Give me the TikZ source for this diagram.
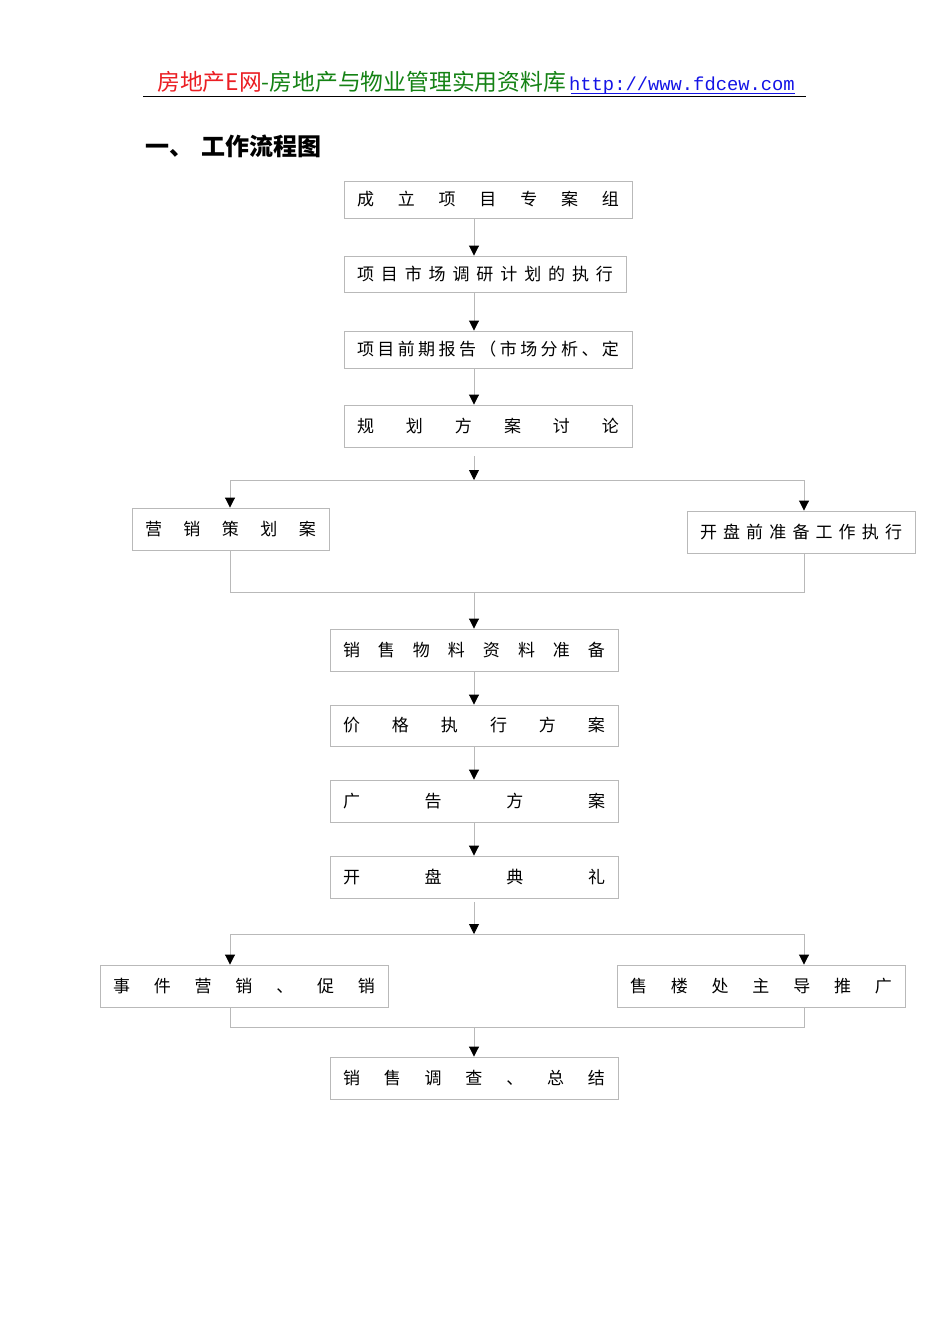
\documentclass[tikz,border=0pt]{standalone}
\usepackage{fontspec}
\setmonofont{Liberation Mono}
\newfontfamily\cjk{Noto Sans CJK SC}
\usetikzlibrary{arrows.meta}
\definecolor{linegray}{RGB}{185,185,185}
\definecolor{hred}{RGB}{235,30,35}
\definecolor{hgreen}{RGB}{20,130,20}
\definecolor{hblue}{RGB}{20,20,230}
\tikzset{
  flowbox/.style={draw=linegray, line width=0.9pt, inner sep=0pt, minimum width=288pt, minimum height=42pt, font=\cjk\fontsize{17}{19}\selectfont},
  link/.style={draw=linegray, line width=0.9pt},
  arr/.style={link, -{Triangle[length=10pt,width=10pt,color=black]}},
}
\newcommand{\spreadtxt}[2]{\makebox[#1][s]{#2}}
\begin{document}
\begin{tikzpicture}[x=1pt,y=-1pt]
  \fill[white] (0,0) rectangle (950,1344);
  \useasboundingbox (0,0) rectangle (950,1344);

  \node[anchor=base west, inner sep=0pt] (kuming) at (157,90) {{\cjk\fontsize{22.8}{26}\selectfont\color{hred}房地产E网\color{hgreen}-房地产与物业管理实用资料库}\hspace{3pt}{\ttfamily\fontsize{18.8}{22}\selectfont\color{hblue}http://www.fdcew.com}};
  \draw[hblue, line width=1pt] (571,93) -- (795,93);
  \draw[line width=1.3pt] (143,96.5) -- (806,96.5);
  \node[anchor=west, inner sep=0pt, font=\cjk\bfseries\fontsize{24}{27}\selectfont] (biaoti) at (145,146) {一、\hspace{8pt}工作流程图};

  \node[flowbox, minimum height=37pt] (zuzhi) at (488,199.5) {\spreadtxt{262pt}{成\hfill 立\hfill 项\hfill 目\hfill 专\hfill 案\hfill 组}};
  \node[flowbox, minimum width=282pt, minimum height=36pt] (diaoyan) at (485,274) {\spreadtxt{256pt}{项\hfill 目\hfill 市\hfill 场\hfill 调\hfill 研\hfill 计\hfill 划\hfill 的\hfill 执\hfill 行}};
  \node[flowbox, minimum height=37pt] (baogao) at (488,349.5) {\spreadtxt{262pt}{项\hfill 目\hfill 前\hfill 期\hfill 报\hfill 告\hfill （\hfill 市\hfill 场\hfill 分\hfill 析\hfill 、\hfill 定}};
  \node[flowbox] (guihua) at (488,426) {\spreadtxt{262pt}{规\hfill 划\hfill 方\hfill 案\hfill 讨\hfill 论}};
  \node[flowbox, minimum width=197pt] (cehua) at (230.5,529) {\spreadtxt{171pt}{营\hfill 销\hfill 策\hfill 划\hfill 案}};
  \node[flowbox, minimum width=228pt] (zhunbei) at (801,532) {\spreadtxt{202pt}{开\hfill 盘\hfill 前\hfill 准\hfill 备\hfill 工\hfill 作\hfill 执\hfill 行}};
  \node[flowbox] (wuliao) at (474,650) {\spreadtxt{262pt}{销\hfill 售\hfill 物\hfill 料\hfill 资\hfill 料\hfill 准\hfill 备}};
  \node[flowbox, minimum height=41pt] (jiage) at (474,725.5) {\spreadtxt{262pt}{价\hfill 格\hfill 执\hfill 行\hfill 方\hfill 案}};
  \node[flowbox] (guanggao) at (474,801) {\spreadtxt{262pt}{广\hfill 告\hfill 方\hfill 案}};
  \node[flowbox] (dianli) at (474,877) {\spreadtxt{262pt}{开\hfill 盘\hfill 典\hfill 礼}};
  \node[flowbox] (cuxiao) at (244,986) {\spreadtxt{262pt}{事\hfill 件\hfill 营\hfill 销\hfill 、\hfill 促\hfill 销}};
  \node[flowbox] (tuiguang) at (761,986) {\spreadtxt{262pt}{售\hfill 楼\hfill 处\hfill 主\hfill 导\hfill 推\hfill 广}};
  \node[flowbox] (zongjie) at (474,1078) {\spreadtxt{262pt}{销\hfill 售\hfill 调\hfill 查\hfill 、\hfill 总\hfill 结}};

  \coordinate (fenA) at (474,480);
  \coordinate (fenAl) at (230,480);
  \coordinate (fenAr) at (804,480);
  \coordinate (heA) at (474,592);
  \coordinate (heAl) at (230,592);
  \coordinate (heAr) at (804,592);
  \coordinate (fenB) at (474,934);
  \coordinate (fenBl) at (230,934);
  \coordinate (fenBr) at (804,934);
  \coordinate (heB) at (474,1027);
  \coordinate (heBl) at (230,1027);
  \coordinate (heBr) at (804,1027);

  \draw[arr] (zuzhi.south -| wuliao) -- (diaoyan.north -| wuliao);
  \draw[arr] (diaoyan.south -| wuliao) -- (baogao.north -| wuliao);
  \draw[arr] (baogao.south -| wuliao) -- (guihua.north -| wuliao);
  \draw[arr, shorten <=9pt] (guihua.south -| wuliao) -- (fenA);
  \draw[link] (fenAl) -- (fenAr);
  \draw[arr] (fenAl) -- (fenAl |- cehua.north);
  \draw[arr] (fenAr) -- (fenAr |- zhunbei.north);
  \draw[link] (cehua.south -| heAl) -- (heAl) -- (heAr) -- (zhunbei.south -| heAr);
  \draw[arr] (heA) -- (wuliao.north);

  \draw[arr] (wuliao.south) -- (jiage.north);
  \draw[arr] (jiage.south) -- (guanggao.north);
  \draw[arr] (guanggao.south) -- (dianli.north);
  \draw[arr, shorten <=4pt] (dianli.south) -- (fenB);
  \draw[link] (fenBl) -- (fenBr);
  \draw[arr] (fenBl) -- (fenBl |- cuxiao.north);
  \draw[arr] (fenBr) -- (fenBr |- tuiguang.north);
  \draw[link] (cuxiao.south -| heBl) -- (heBl) -- (heBr) -- (tuiguang.south -| heBr);
  \draw[arr] (heB) -- (zongjie.north);
\end{tikzpicture}
\end{document}
